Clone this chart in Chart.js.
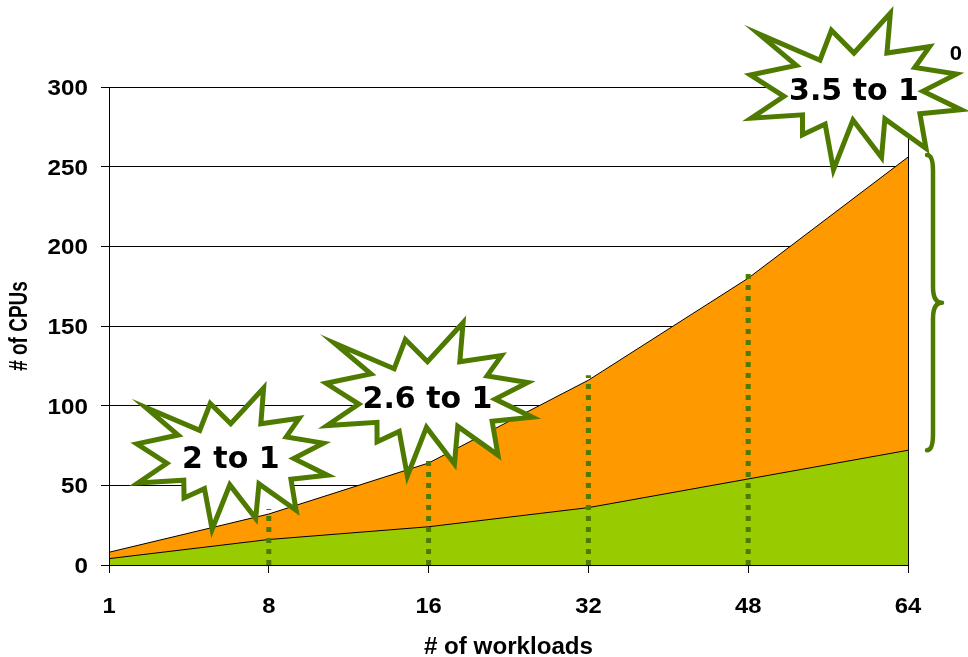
<!DOCTYPE html>
<html>
<head>
<meta charset="utf-8">
<script src="https://cdn.jsdelivr.net/npm/chart.js@4/dist/chart.umd.min.js"></script>
<style>
  html, body { margin: 0; padding: 0; background: #fff; overflow: hidden; }
  canvas { display: block; }
</style>
</head>
<body>
<canvas id="cpuChart" width="968" height="657"></canvas>
<script>
// ---- data ----
const workloads        = ['1', '8', '16', '32', '48', '64'];
const dedicatedCpus    = [8, 32, 64, 116, 180, 256];
const consolidatedCpus = [4, 16, 24, 36, 54, 72];
const cpuTicks         = [0, 50, 100, 150, 200, 250, 300];
const ratioCallouts    = [1, 2, 5];      // workload indices whose ratio is called out
const dropLines        = [1, 2, 3, 4];   // workload indices with a dotted drop line
const cornerNote       = '0';

// ---- styling ----
const ORANGE = '#FF9900';
const GREEN  = '#99CC00';
const OLIVE  = '#4F7A00';
const AXIS_FONT  = '"Liberation Sans", Arial, sans-serif';
const BURST_FONT = '"DejaVu Sans", Verdana, sans-serif';

// where each callout sits, in axis units (category index, CPUs), and its size
const calloutLayout = [
  { at: 0.762, cpus: 68,    size: 0.94 },
  { at: 1.993, cpus: 105.4, size: 1.01 },
  { at: 4.662, cpus: 298.7, size: 1.03 }
];

// starburst outline: outer tips and the notch that follows each tip
const BURST_TIPS = [
  [39, -82], [80, -45], [109, -16], [115, 22], [74, 64], [29, 74],
  [-21, 89], [-53, 49], [-111, 32], [-108, -15], [-113, -66], [-23, -62]
];
const BURST_NOTCHES = [
  [32, -35], [59, -21], [67, 2], [64, 24], [30, 29], [-1, 30],
  [-28, 34], [-50, 25], [-68, 7], [-56, -23], [-33, -28], [0, -35]
];
const BURST_LINE = 5;

function wideText(ctx, text, x, y, font, sx, align, capH) {
  ctx.save();
  ctx.translate(x, y);
  ctx.scale(sx, 1);
  ctx.font = font;
  ctx.textAlign = align;
  ctx.textBaseline = 'alphabetic';
  ctx.fillStyle = '#000';
  ctx.fillText(text, 0, capH / 2);
  ctx.restore();
}

// Pull each tip inward so the mitred stroke ends on the outline point.
function burstPath(cx, cy, s) {
  const n = BURST_TIPS.length;
  const pts = [];
  for (let j = 0; j < n; j++) {
    const P = [cx + BURST_TIPS[j][0] * s, cy + BURST_TIPS[j][1] * s];
    const A = BURST_NOTCHES[(j - 1 + n) % n], B = BURST_NOTCHES[j];
    const a = [cx + A[0] * s - P[0], cy + A[1] * s - P[1]];
    const b = [cx + B[0] * s - P[0], cy + B[1] * s - P[1]];
    const la = Math.hypot(a[0], a[1]), lb = Math.hypot(b[0], b[1]);
    const u = [a[0] / la, a[1] / la], v = [b[0] / lb, b[1] / lb];
    let w = [u[0] + v[0], u[1] + v[1]];
    const lw = Math.hypot(w[0], w[1]);
    w = [w[0] / lw, w[1] / lw];
    const half = Math.acos(Math.max(-1, Math.min(1, u[0] * v[0] + u[1] * v[1]))) / 2;
    const ext = (BURST_LINE / 2) / Math.sin(half);
    pts.push([P[0] + w[0] * ext, P[1] + w[1] * ext]);
    pts.push([cx + B[0] * s, cy + B[1] * s]);
  }
  return pts;
}

const decorations = {
  id: 'decorations',
  afterDatasetsDraw(chart) {
    const { ctx, chartArea: a, scales: { x, y } } = chart;
    const last = workloads.length - 1;
    ctx.save();

    // frame: left axis, bottom axis, right edge
    ctx.strokeStyle = '#000';
    ctx.lineWidth = 1;
    ctx.beginPath();
    ctx.moveTo(Math.round(a.left) + 0.5, a.top);
    ctx.lineTo(Math.round(a.left) + 0.5, Math.round(a.bottom) + 0.5);
    ctx.lineTo(Math.round(a.right) + 0.5, Math.round(a.bottom) + 0.5);
    ctx.lineTo(Math.round(a.right) + 0.5, a.top);
    ctx.stroke();

    // dotted drop lines from the dedicated curve to the axis
    ctx.strokeStyle = OLIVE;
    ctx.lineWidth = 5;
    ctx.lineCap = 'butt';
    ctx.setLineDash([5, 6]);
    for (const i of dropLines) {
      const px = x.getPixelForValue(i);
      ctx.beginPath();
      ctx.moveTo(px, y.getPixelForValue(0));
      ctx.lineTo(px, y.getPixelForValue(dedicatedCpus[i]) - 5);
      ctx.stroke();
    }
    ctx.setLineDash([]);

    // brace spanning the gap at the last workload count
    const top = y.getPixelForValue(dedicatedCpus[last]) - 2;
    const bot = y.getPixelForValue(consolidatedCpus[last]);
    const mid = (top + bot) / 2;
    const x0 = a.right + 19, x1 = a.right + 25, x2 = a.right + 34, r = 16;
    ctx.strokeStyle = OLIVE;
    ctx.lineWidth = 4.5;
    ctx.lineCap = 'round';
    ctx.lineJoin = 'round';
    ctx.beginPath();
    ctx.moveTo(x0, top);
    ctx.quadraticCurveTo(x1, top, x1, top + r);
    ctx.lineTo(x1, mid - r);
    ctx.quadraticCurveTo(x1, mid, x2, mid);
    ctx.quadraticCurveTo(x1, mid, x1, mid + r);
    ctx.lineTo(x1, bot - r);
    ctx.quadraticCurveTo(x1, bot, x0, bot);
    ctx.stroke();

    // ratio starbursts
    ctx.lineCap = 'butt';
    ctx.lineJoin = 'miter';
    ctx.miterLimit = 30;
    calloutLayout.forEach((c, k) => {
      const i = ratioCallouts[k];
      const cx = x.getPixelForValue(c.at);
      const cy = y.getPixelForValue(c.cpus);
      const pts = burstPath(cx, cy, c.size);
      ctx.beginPath();
      pts.forEach((p, j) => (j === 0 ? ctx.moveTo(p[0], p[1]) : ctx.lineTo(p[0], p[1])));
      ctx.closePath();
      ctx.fillStyle = '#fff';
      ctx.fill();
      ctx.lineWidth = BURST_LINE;
      ctx.strokeStyle = OLIVE;
      ctx.stroke();

      const ratio = Math.floor(dedicatedCpus[i] / consolidatedCpus[i] * 10) / 10;
      wideText(ctx, ratio + ' to 1', cx, cy, 'bold 30px ' + BURST_FONT, 1, 'center', 30 * 0.729);
    });

    ctx.restore();
  },
  afterDraw(chart) {
    const { ctx, chartArea: a, scales: { x, y } } = chart;
    const tickFont = 'bold 22px ' + AXIS_FONT;
    const capT = 22 * 0.716;

    // value axis labels
    y.ticks.forEach(t => {
      wideText(ctx, String(t.value), a.left - 21, y.getPixelForValue(t.value), tickFont, 1.1, 'right', capT);
    });
    // category axis labels
    x.ticks.forEach((t, i) => {
      wideText(ctx, x.getLabelForValue(t.value), x.getPixelForTick(i), a.bottom + 40, tickFont, 1.08, 'center', capT);
    });

    // axis titles
    wideText(ctx, '# of workloads', (a.left + a.right) / 2, a.bottom + 81, 'bold 23px ' + AXIS_FONT, 1.05, 'center', 23 * 0.716);

    ctx.save();
    ctx.translate(18, (a.top + a.bottom) / 2);
    ctx.rotate(-Math.PI / 2);
    ctx.scale(1, 1.35);
    ctx.font = 'bold 19px ' + AXIS_FONT;
    ctx.textAlign = 'center';
    ctx.textBaseline = 'alphabetic';
    ctx.fillStyle = '#000';
    ctx.fillText('# of CPUs', 0, 19 * 0.716 / 2);
    ctx.restore();

    // stray note at the upper right
    wideText(ctx, cornerNote, a.right + 48, a.top - 35, 'bold 21px ' + AXIS_FONT, 1.05, 'center', 21 * 0.716);
  }
};

new Chart(document.getElementById('cpuChart'), {
  type: 'line',
  data: {
    labels: workloads,
    datasets: [
      {
        label: 'Dedicated',
        data: dedicatedCpus,
        backgroundColor: ORANGE,
        borderColor: '#000',
        borderWidth: 1,
        fill: 'origin',
        pointRadius: 0,
        tension: 0,
        order: 2
      },
      {
        label: 'Consolidated',
        data: consolidatedCpus,
        backgroundColor: GREEN,
        borderColor: '#000',
        borderWidth: 1,
        fill: 'origin',
        pointRadius: 0,
        tension: 0,
        order: 1
      }
    ]
  },
  options: {
    responsive: false,
    animation: false,
    devicePixelRatio: 1,
    layout: { padding: { left: 101, right: 60, top: 87, bottom: 84 } },
    plugins: {
      legend: { display: false },
      tooltip: { enabled: false }
    },
    scales: {
      x: {
        type: 'category',
        offset: false,
        ticks: { display: false },
        grid: { drawOnChartArea: false, drawTicks: true, tickLength: 8, color: '#000', tickColor: '#000' },
        border: { display: true, color: '#000', width: 1 }
      },
      y: {
        min: cpuTicks[0],
        max: cpuTicks[cpuTicks.length - 1],
        ticks: { display: false, stepSize: cpuTicks[1] - cpuTicks[0] },
        grid: { color: '#000', lineWidth: 1, drawTicks: true, tickLength: 8, tickColor: '#000' },
        border: { display: true, color: '#000', width: 1 }
      }
    }
  },
  plugins: [decorations]
});
</script>
</body>
</html>
